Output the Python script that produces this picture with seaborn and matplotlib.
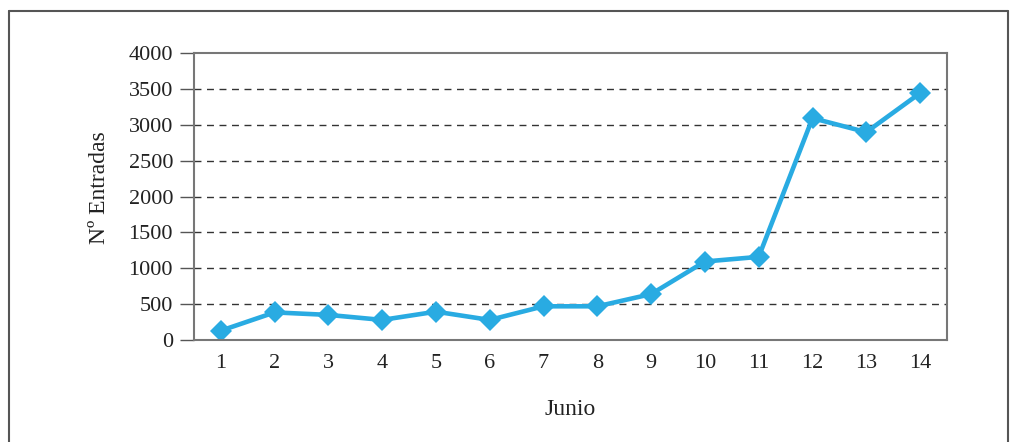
# Entradas diarias en junio

import matplotlib
matplotlib.use("Agg")
import matplotlib.pyplot as plt
from matplotlib.lines import Line2D
import pandas as pd
import seaborn as sns

# Datos
dias = [1, 2, 3, 4, 5, 6, 7, 8, 9, 10, 11, 12, 13, 14]
entradas = [130, 385, 350, 280, 395, 280, 470, 470, 640, 1095, 1160, 3095, 2900, 3445]
yticks = [0, 500, 1000, 1500, 2000, 2500, 3000, 3500, 4000]

df = pd.DataFrame({"Junio": dias, "Entradas": entradas})

sns.set_style("white")
plt.rcParams["font.family"] = ["Liberation Serif", "DejaVu Serif"]

fig = plt.figure(figsize=(10.1, 4.42), dpi=100)
ax = fig.add_axes([0.192, 0.2308, 0.7456, 0.6486])

sns.lineplot(data=df, x="Junio", y="Entradas", ax=ax, color="#29abe2",
             linewidth=3.3, marker="D", markersize=11, markeredgewidth=0)

ax.set_xlim(0.5, 14.5)
ax.set_ylim(0, 4000)
ax.set_xticks(dias)
ax.set_yticks(yticks)
ax.tick_params(axis="x", length=0, pad=10, labelsize=16, labelcolor="#222222")
ax.tick_params(axis="y", length=10, width=1, color="#555555", pad=5,
               labelsize=16, labelcolor="#222222", left=True)

for y in yticks[1:-1]:
    ax.axhline(y, color="#333333", linewidth=1, linestyle=(0, (5, 4)), zorder=0)

for s in ax.spines.values():
    s.set_color("#777777")
    s.set_linewidth(1.5)

ax.set_xlabel("Junio", fontsize=17, color="#222222", labelpad=19)
ax.set_ylabel("Nº Entradas", fontsize=17, color="#222222")
ax.yaxis.set_label_coords(-0.112, 0.53)

# Marco exterior
kw = dict(color="#555555", linewidth=1.5, transform=fig.transFigure)
fig.add_artist(Line2D([0.0089, 0.998], [0.975, 0.975], **kw))
fig.add_artist(Line2D([0.0089, 0.0089], [0.0, 0.975], **kw))
fig.add_artist(Line2D([0.998, 0.998], [0.0, 0.975], **kw))

fig.savefig("out.png", dpi=100)
